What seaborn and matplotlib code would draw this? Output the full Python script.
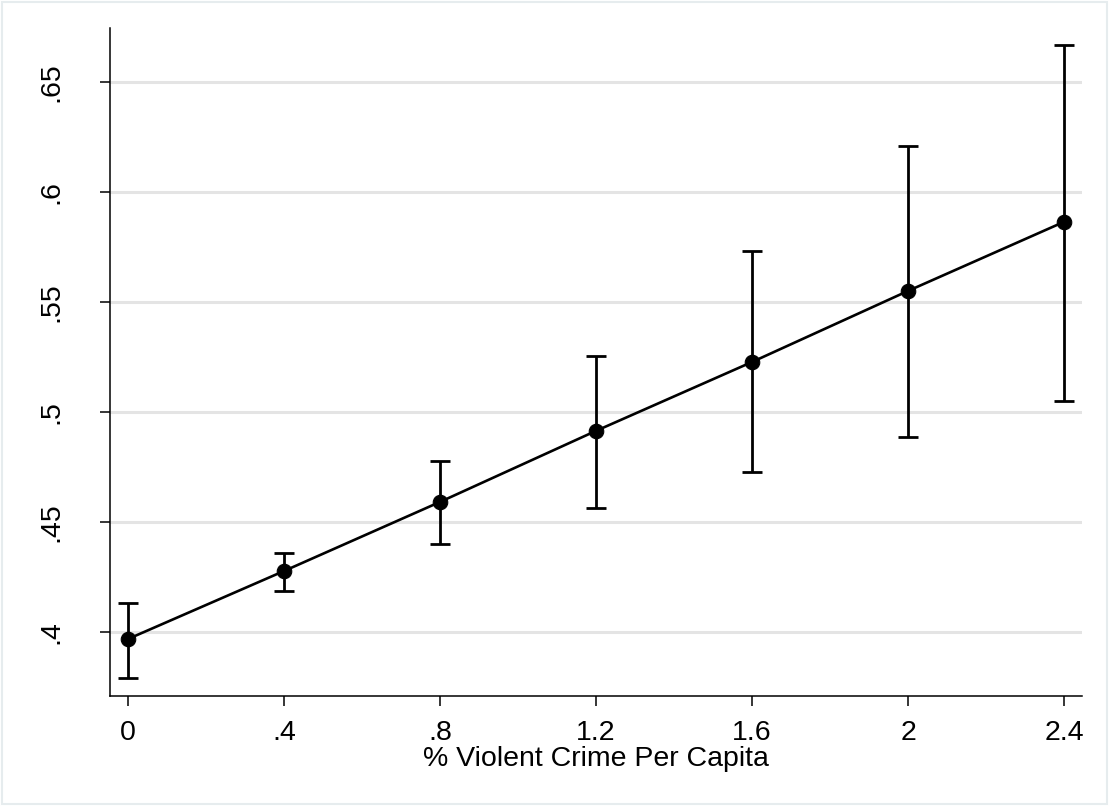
import matplotlib
matplotlib.use("Agg")
import matplotlib.pyplot as plt
import seaborn as sns
import pandas as pd
from matplotlib.patches import Rectangle

# Werte
krim_werte = [0.0, 0.4, 0.8, 1.2, 1.6, 2.0, 2.4]
vorhersage = [0.3968, 0.4277, 0.4591, 0.4914, 0.5227, 0.5550, 0.5864]
ki_unten = [0.3790, 0.4186, 0.4400, 0.4564, 0.4727, 0.4886, 0.5050]
ki_oben = [0.4132, 0.4359, 0.4777, 0.5255, 0.5732, 0.6209, 0.6668]

x_ticks = [0.0, 0.4, 0.8, 1.2, 1.6, 2.0, 2.4]
x_labels = ["0", ".4", ".8", "1.2", "1.6", "2", "2.4"]
y_ticks = [0.40, 0.45, 0.50, 0.55, 0.60, 0.65]
y_labels = [".4", ".45", ".5", ".55", ".6", ".65"]

df = pd.DataFrame({"x": krim_werte, "y": vorhersage, "lo": ki_unten, "hi": ki_oben})

sns.set_style("white")
plt.rcParams["font.family"] = ["Liberation Sans", "DejaVu Sans"]
plt.rcParams["text.color"] = "black"
plt.rcParams["xtick.color"] = "black"
plt.rcParams["ytick.color"] = "black"
plt.rcParams["axes.labelcolor"] = "black"

fig = plt.figure(figsize=(11.1, 8.06), dpi=100)
ax = fig.add_axes([0.0991, 0.1365, 0.8757, 0.8288])

for yt in y_ticks:
    ax.axhline(yt, color="#e4e4e4", lw=2.2, zorder=0)

fehler_unten = df["y"] - df["lo"]
fehler_oben = df["hi"] - df["y"]
ax.errorbar(df["x"], df["y"], yerr=[fehler_unten, fehler_oben], fmt="none",
            ecolor="black", elinewidth=2.0, capsize=7, capthick=2.0, zorder=2)

sns.lineplot(data=df, x="x", y="y", ax=ax, color="black", lw=1.9,
             marker="o", markersize=10.5, markeredgecolor="black", zorder=3)

ax.set_xlim(-0.0462, 2.446)
ax.set_ylim(0.3709, 0.6745)
ax.set_xticks(x_ticks)
ax.set_xticklabels(x_labels)
ax.set_yticks(y_ticks)
ax.set_yticklabels(y_labels, rotation=90, va="center")

for side in ["top", "right"]:
    ax.spines[side].set_visible(False)
for side in ["left", "bottom"]:
    ax.spines[side].set_color("black")
    ax.spines[side].set_linewidth(1.1)

ax.tick_params(axis="both", direction="out", length=7, width=1.1, color="black",
               labelsize=20.5, labelcolor="black", left=True, bottom=True)
ax.tick_params(axis="x", pad=10)
ax.tick_params(axis="y", pad=26)
ax.set_xlabel("% Violent Crime Per Capita", fontsize=20.5, labelpad=0)
ax.set_ylabel("")

fig.patches.append(Rectangle((0.002, 0.003), 0.995, 0.994, transform=fig.transFigure,
                             fill=False, edgecolor="#e6ecee", lw=1.5))

fig.savefig("out.png", dpi=100)
